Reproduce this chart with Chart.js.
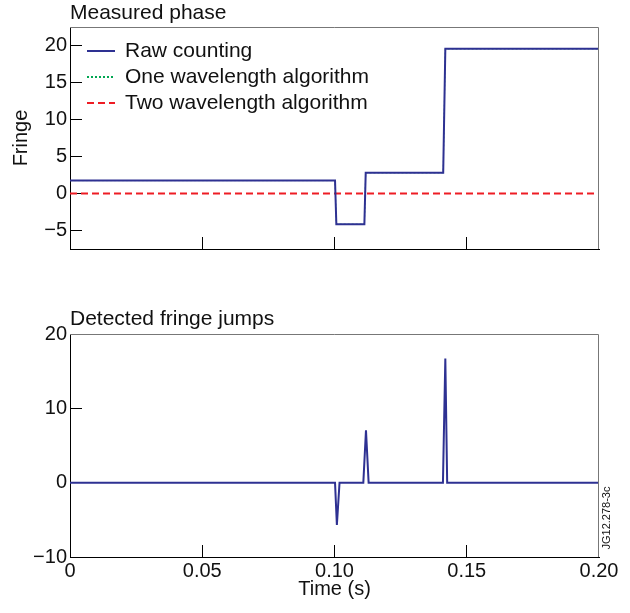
<!DOCTYPE html>
<html>
<head>
<meta charset="utf-8">
<script src="https://cdn.jsdelivr.net/npm/chart.js@4"></script>
<style>
  body { margin: 0; background: #fff; }
  #top { position: absolute; left: 0; top: 0; }
  #bottom { position: absolute; left: 0; top: 300px; }
</style>
</head>
<body>
<canvas id="top" width="630" height="270"></canvas>
<canvas id="bottom" width="630" height="313"></canvas>
<script>
// measured phase (top panel)
const rawTime = [0, 0.1002, 0.1007, 0.1113, 0.1118, 0.1411, 0.1419, 0.2];
const rawFringe = [1.75, 1.75, -4.15, -4.15, 2.8, 2.8, 19.55, 19.55];
// one wavelength trace sits under the raw counting line
const oneWlTime = [0, 0.1002, 0.1007, 0.1113, 0.1118, 0.1411, 0.1419, 0.2];
const oneWlFringe = [1.75, 1.75, -4.15, -4.15, 2.8, 2.8, 19.55, 19.55];
const twoWlTime = [0, 0.2];
const twoWlFringe = [0, 0];

// detected fringe jumps (bottom panel)
const jumpTime = [0, 0.1002, 0.1009, 0.1019, 0.1109, 0.1119, 0.1129, 0.1410, 0.1419, 0.1426, 0.2];
const jumpValue = [0, 0, -5.7, 0, 0, 7.05, 0, 0, 16.7, 0, 0];

const xTicks = [0, 0.05, 0.1, 0.15, 0.2];
const xTickLabels = ['0', '0.05', '0.10', '0.15', '0.20'];
const phaseTicks = [-5, 0, 5, 10, 15, 20];
const jumpTicks = [-10, 0, 10, 20];

const FONT = "'Liberation Sans', Arial, sans-serif";
const BLUE = '#2e3192';
const minus = v => String(v).replace('-', '\u2212');
const pts = (xs, ys) => xs.map((x, i) => ({ x: x, y: ys[i] }));

// top and right frame lines in grey
const frame = {
  id: 'frame',
  afterDatasetsDraw(chart) {
    const { ctx, chartArea: a } = chart;
    ctx.save();
    ctx.strokeStyle = '#777';
    ctx.lineWidth = 1;
    ctx.beginPath();
    ctx.moveTo(Math.round(a.left), Math.round(a.top) + 0.5);
    ctx.lineTo(Math.round(a.right) - 0.5, Math.round(a.top) + 0.5);
    ctx.lineTo(Math.round(a.right) - 0.5, Math.round(a.bottom));
    ctx.stroke();
    ctx.restore();
  }
};

const lineLegend = {
  id: 'lineLegend',
  afterDraw(chart) {
    const ctx = chart.ctx;
    ctx.save();
    chart.data.datasets.forEach((ds, i) => {
      const y = 51 + i * 26;
      ctx.strokeStyle = ds.borderColor;
      ctx.lineWidth = 2;
      ctx.setLineDash(ds.borderDash || []);
      ctx.beginPath();
      ctx.moveTo(87, y);
      ctx.lineTo(115, y);
      ctx.stroke();
      ctx.setLineDash([]);
      ctx.fillStyle = '#111';
      ctx.font = '21px ' + FONT;
      ctx.textBaseline = 'middle';
      ctx.fillText(ds.label, 125, y);
    });
    ctx.restore();
  }
};

const stamp = {
  id: 'stamp',
  afterDraw(chart) {
    const ctx = chart.ctx;
    ctx.save();
    ctx.translate(607, 218);
    ctx.rotate(-Math.PI / 2);
    ctx.fillStyle = '#111';
    ctx.font = '11px ' + FONT;
    ctx.textAlign = 'center';
    ctx.textBaseline = 'middle';
    ctx.fillText('JG12.278-3c', 0, 0);
    ctx.restore();
  }
};

function xAxis(showLabels, height) {
  return {
    type: 'linear',
    min: 0,
    max: 0.2,
    afterBuildTicks: s => { s.ticks = xTicks.map(v => ({ value: v })); },
    afterFit: s => { s.height = height; s.paddingLeft = 0; s.paddingRight = 0; },
    grid: {
      drawOnChartArea: false,
      tickLength: -12,
      color: '#000',
      // the end ticks sit on the frame, leave them out
      tickColor: c => (c.tick && c.tick.value > 0 && c.tick.value < 0.2) ? '#000' : 'rgba(0,0,0,0)'
    },
    border: { color: '#000' },
    ticks: {
      display: showLabels,
      padding: 14,
      color: '#111',
      font: { family: FONT, size: 20 },
      callback: (v, i) => xTickLabels[i]
    },
    title: {
      display: showLabels,
      text: 'Time (s)',
      color: '#111',
      font: { family: FONT, size: 20 },
      padding: { top: 0, bottom: 12 }
    }
  };
}

function yAxis(min, max, tickList, titleText) {
  return {
    min: min,
    max: max,
    afterBuildTicks: s => { s.ticks = tickList.map(v => ({ value: v })); },
    afterFit: s => { s.width = 70; s.paddingTop = 0; s.paddingBottom = 0; },
    grid: { drawOnChartArea: false, tickLength: -12, color: '#000' },
    border: { color: '#000' },
    ticks: {
      padding: 15,
      color: '#111',
      font: { family: FONT, size: 20 },
      callback: v => minus(v)
    },
    title: {
      display: !!titleText,
      text: titleText,
      color: '#111',
      font: { family: FONT, size: 20 },
      padding: { top: 9, bottom: 0 }
    }
  };
}

new Chart(document.getElementById('top'), {
  type: 'line',
  data: {
    datasets: [{
      label: 'Raw counting',
      data: pts(rawTime, rawFringe),
      borderColor: BLUE,
      borderWidth: 2
    }, {
      label: 'One wavelength algorithm',
      data: pts(oneWlTime, oneWlFringe),
      borderColor: '#00a651',
      borderWidth: 1,
      borderDash: [2, 2]
    }, {
      label: 'Two wavelength algorithm',
      data: pts(twoWlTime, twoWlFringe),
      borderColor: '#ee1c24',
      borderWidth: 2,
      borderDash: [7, 4]
    }]
  },
  options: {
    responsive: false,
    animation: false,
    elements: { point: { radius: 0 }, line: { tension: 0 } },
    layout: { padding: { left: 0, right: 31, top: 0, bottom: 0 } },
    scales: {
      x: xAxis(false, 21),
      y: yAxis(-7.5, 22.5, phaseTicks, 'Fringe')
    },
    plugins: {
      legend: { display: false },
      tooltip: { enabled: false },
      title: {
        display: true,
        text: 'Measured phase',
        align: 'start',
        fullSize: false,
        color: '#111',
        font: { family: FONT, size: 21, weight: 'normal' },
        padding: { top: 1, bottom: 0.8 }
      }
    }
  },
  plugins: [frame, lineLegend]
});

new Chart(document.getElementById('bottom'), {
  type: 'line',
  data: {
    datasets: [{
      label: 'Detected fringe jumps',
      data: pts(jumpTime, jumpValue),
      borderColor: BLUE,
      borderWidth: 2
    }]
  },
  options: {
    responsive: false,
    animation: false,
    elements: { point: { radius: 0 }, line: { tension: 0 } },
    layout: { padding: { left: 0, right: 31, top: 0, bottom: 0 } },
    scales: {
      x: xAxis(true, 56),
      y: yAxis(-10, 20, jumpTicks, '')
    },
    plugins: {
      legend: { display: false },
      tooltip: { enabled: false },
      title: {
        display: true,
        text: 'Detected fringe jumps',
        align: 'start',
        fullSize: false,
        color: '#111',
        font: { family: FONT, size: 21, weight: 'normal' },
        padding: { top: 6.6, bottom: 2.2 }
      }
    }
  },
  plugins: [frame, stamp]
});
</script>
</body>
</html>
